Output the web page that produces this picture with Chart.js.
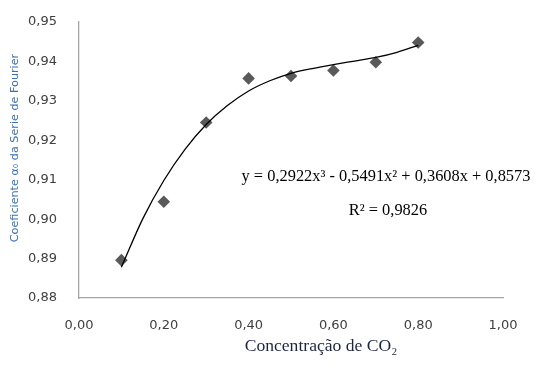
<!DOCTYPE html>
<html>
<head>
<meta charset="utf-8">
<script src="https://cdn.jsdelivr.net/npm/chart.js@4.4.1/dist/chart.umd.min.js"></script>
<style>
html,body{margin:0;padding:0;background:#fff;}
#wrap{width:551px;height:365px;position:relative;}
</style>
</head>
<body>
<div id="wrap"><canvas id="c" width="551" height="365"></canvas></div>
<script>
// Measured data points
const xValues = [0.1, 0.2, 0.3, 0.4, 0.5, 0.6, 0.7, 0.8];
const yValues = [0.8896, 0.9044, 0.9245, 0.9357, 0.9363, 0.9377, 0.9398, 0.9448];
// Trend line
const trendX = [0.10, 0.15, 0.20, 0.25, 0.30, 0.35, 0.40, 0.45, 0.50, 0.55, 0.60, 0.65, 0.70, 0.75, 0.80];
const trendY = [0.8878, 0.9000, 0.9098, 0.9177, 0.9240, 0.9288, 0.9325, 0.9351, 0.9370, 0.9382, 0.9392, 0.9401, 0.9410, 0.9423, 0.9441];
const xTicks = [0, 0.2, 0.4, 0.6, 0.8, 1.0];
const yTicks = [0.88, 0.89, 0.90, 0.91, 0.92, 0.93, 0.94, 0.95];
const equationText = "y = 0,2922x³ - 0,5491x² + 0,3608x + 0,8573";
const r2Text = "R² = 0,9826";
const xTitle = "Concentração de CO₂";
const yTitle = "Coeficiente α₀ da Serie de Fourier";

const fmt = v => v.toFixed(2).replace('.', ',');

const textPlugin = {
  id: 'texts',
  afterDraw(chart) {
    const ctx = chart.ctx;
    ctx.save();
    // equation
    ctx.fillStyle = '#000';
    ctx.font = '16.4px "Liberation Serif"';
    ctx.textAlign = 'center';
    ctx.textBaseline = 'alphabetic';
    ctx.fillText(equationText, 386, 181);
    ctx.fillText(r2Text, 388, 215);
    // x title
    ctx.fillStyle = '#1b2740';
    ctx.font = '17.6px "Liberation Serif"';
    ctx.fillText(xTitle, 321, 351);
    // y title
    ctx.translate(15, 148);
    ctx.rotate(-Math.PI / 2);
    ctx.fillStyle = '#3b72b5';
    ctx.font = '11.2px "DejaVu Sans"';
    ctx.textBaseline = 'middle';
    ctx.fillText(yTitle, 0, 0);
    ctx.restore();
  }
};

new Chart(document.getElementById('c'), {
  type: 'scatter',
  data: {
    datasets: [
      {
        label: 'trend',
        data: trendX.map((x, i) => ({x: x, y: trendY[i]})),
        showLine: true,
        borderColor: '#000',
        borderWidth: 1.3,
        pointRadius: 0,
        cubicInterpolationMode: 'monotone',
        fill: false
      },
      {
        label: 'data',
        data: xValues.map((x, i) => ({x: x, y: yValues[i]})),
        pointStyle: 'rectRot',
        pointRadius: 6.3,
        backgroundColor: '#595959',
        borderColor: '#595959',
        borderWidth: 0,
        showLine: false
      }
    ]
  },
  options: {
    responsive: false,
    animation: false,
    devicePixelRatio: 1,
    layout: { padding: { top: 22, right: 48, left: 0, bottom: 0 } },
    plugins: { legend: { display: false }, tooltip: { enabled: false } },
    scales: {
      x: {
        type: 'linear', min: 0, max: 1,
        afterBuildTicks: s => { s.ticks = xTicks.map(v => ({value: v})); },
        afterFit: s => { s.height = 67; s.paddingLeft = 0; s.paddingRight = 0; },
        grid: { display: false, drawTicks: false },
        border: { display: true, color: '#a6a6a6', width: 1.3 },
        ticks: { padding: 20, color: '#404040', font: { family: 'DejaVu Sans', size: 13 }, callback: v => fmt(v), maxRotation: 0 }
      },
      y: {
        type: 'linear', min: 0.88, max: 0.95,
        afterBuildTicks: s => { s.ticks = yTicks.map(v => ({value: v})); },
        afterFit: s => { s.width = 79; s.paddingTop = 0; s.paddingBottom = 0; },
        grid: { display: false, drawTicks: false },
        border: { display: true, color: '#a6a6a6', width: 1.3 },
        ticks: { padding: 22, color: '#404040', font: { family: 'DejaVu Sans', size: 13 }, callback: v => fmt(v) }
      }
    }
  },
  plugins: [textPlugin]
});
</script>
</body>
</html>
